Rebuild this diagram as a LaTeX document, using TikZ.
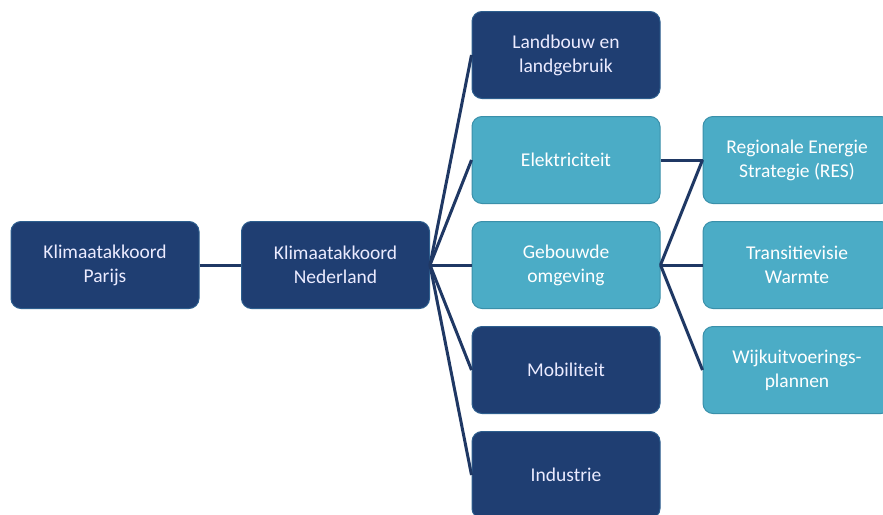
\documentclass[tikz,border=0pt]{standalone}
\usepackage{fontspec}
\setmainfont{Carlito}
\usetikzlibrary{positioning}
\definecolor{kanavy}{HTML}{1F3E72}
\definecolor{kanavyedge}{HTML}{2D5E8E}
\definecolor{kateal}{HTML}{4BACC6}
\definecolor{katealedge}{HTML}{3A90AA}
\definecolor{kaline}{HTML}{1F3864}
\tikzset{
  kabox/.style={rounded corners=10pt, minimum width=188pt, minimum height=87pt,
    inner sep=0pt, align=center, line width=1pt,
    font=\fontsize{19.5}{24}\selectfont},
  navybox/.style={kabox, fill=kanavy, draw=kanavyedge, text=white!92!blue},
  tealbox/.style={kabox, fill=kateal, draw=katealedge, text=white},
  link/.style={draw=kaline, line width=3pt}
}
\begin{document}
\begin{tikzpicture}[x=1pt,y=-1pt]
    \useasboundingbox[fill=white] (0,0) rectangle (883,514);
    \node[navybox] (parijs) at (105,265) {Klimaatakkoord\\Parijs};
    \node[navybox] (nederland) at (335.5,265) {Klimaatakkoord\\Nederland};
    \node[navybox] (landbouw) at (566,55) {Landbouw en\\landgebruik};
    \node[tealbox] (elektr) at (566,160) {Elektriciteit};
    \node[tealbox] (gebouwd) at (566,265) {Gebouwde\\omgeving};
    \node[navybox] (mobiliteit) at (566,370) {Mobiliteit};
    \node[navybox] (industrie) at (566,475) {Industrie};
    \node[tealbox] (res) at (797,160) {Regionale Energie\\Strategie (RES)};
    \node[tealbox] (warmte) at (797,265) {Transitievisie\\Warmte};
    \node[tealbox] (wijk) at (797,370) {Wijkuitvoerings-\\plannen};
    \draw[link] (parijs.east) -- (nederland.west);
    \draw[link] (nederland.east) -- (landbouw.west);
    \draw[link] (nederland.east) -- (elektr.west);
    \draw[link] (nederland.east) -- (gebouwd.west);
    \draw[link] (nederland.east) -- (mobiliteit.west);
    \draw[link] (nederland.east) -- (industrie.west);
    \draw[link] (elektr.east) -- (res.west);
    \draw[link] (gebouwd.east) -- (res.west);
    \draw[link] (gebouwd.east) -- (warmte.west);
    \draw[link] (gebouwd.east) -- (wijk.west);
\end{tikzpicture}
\end{document}
